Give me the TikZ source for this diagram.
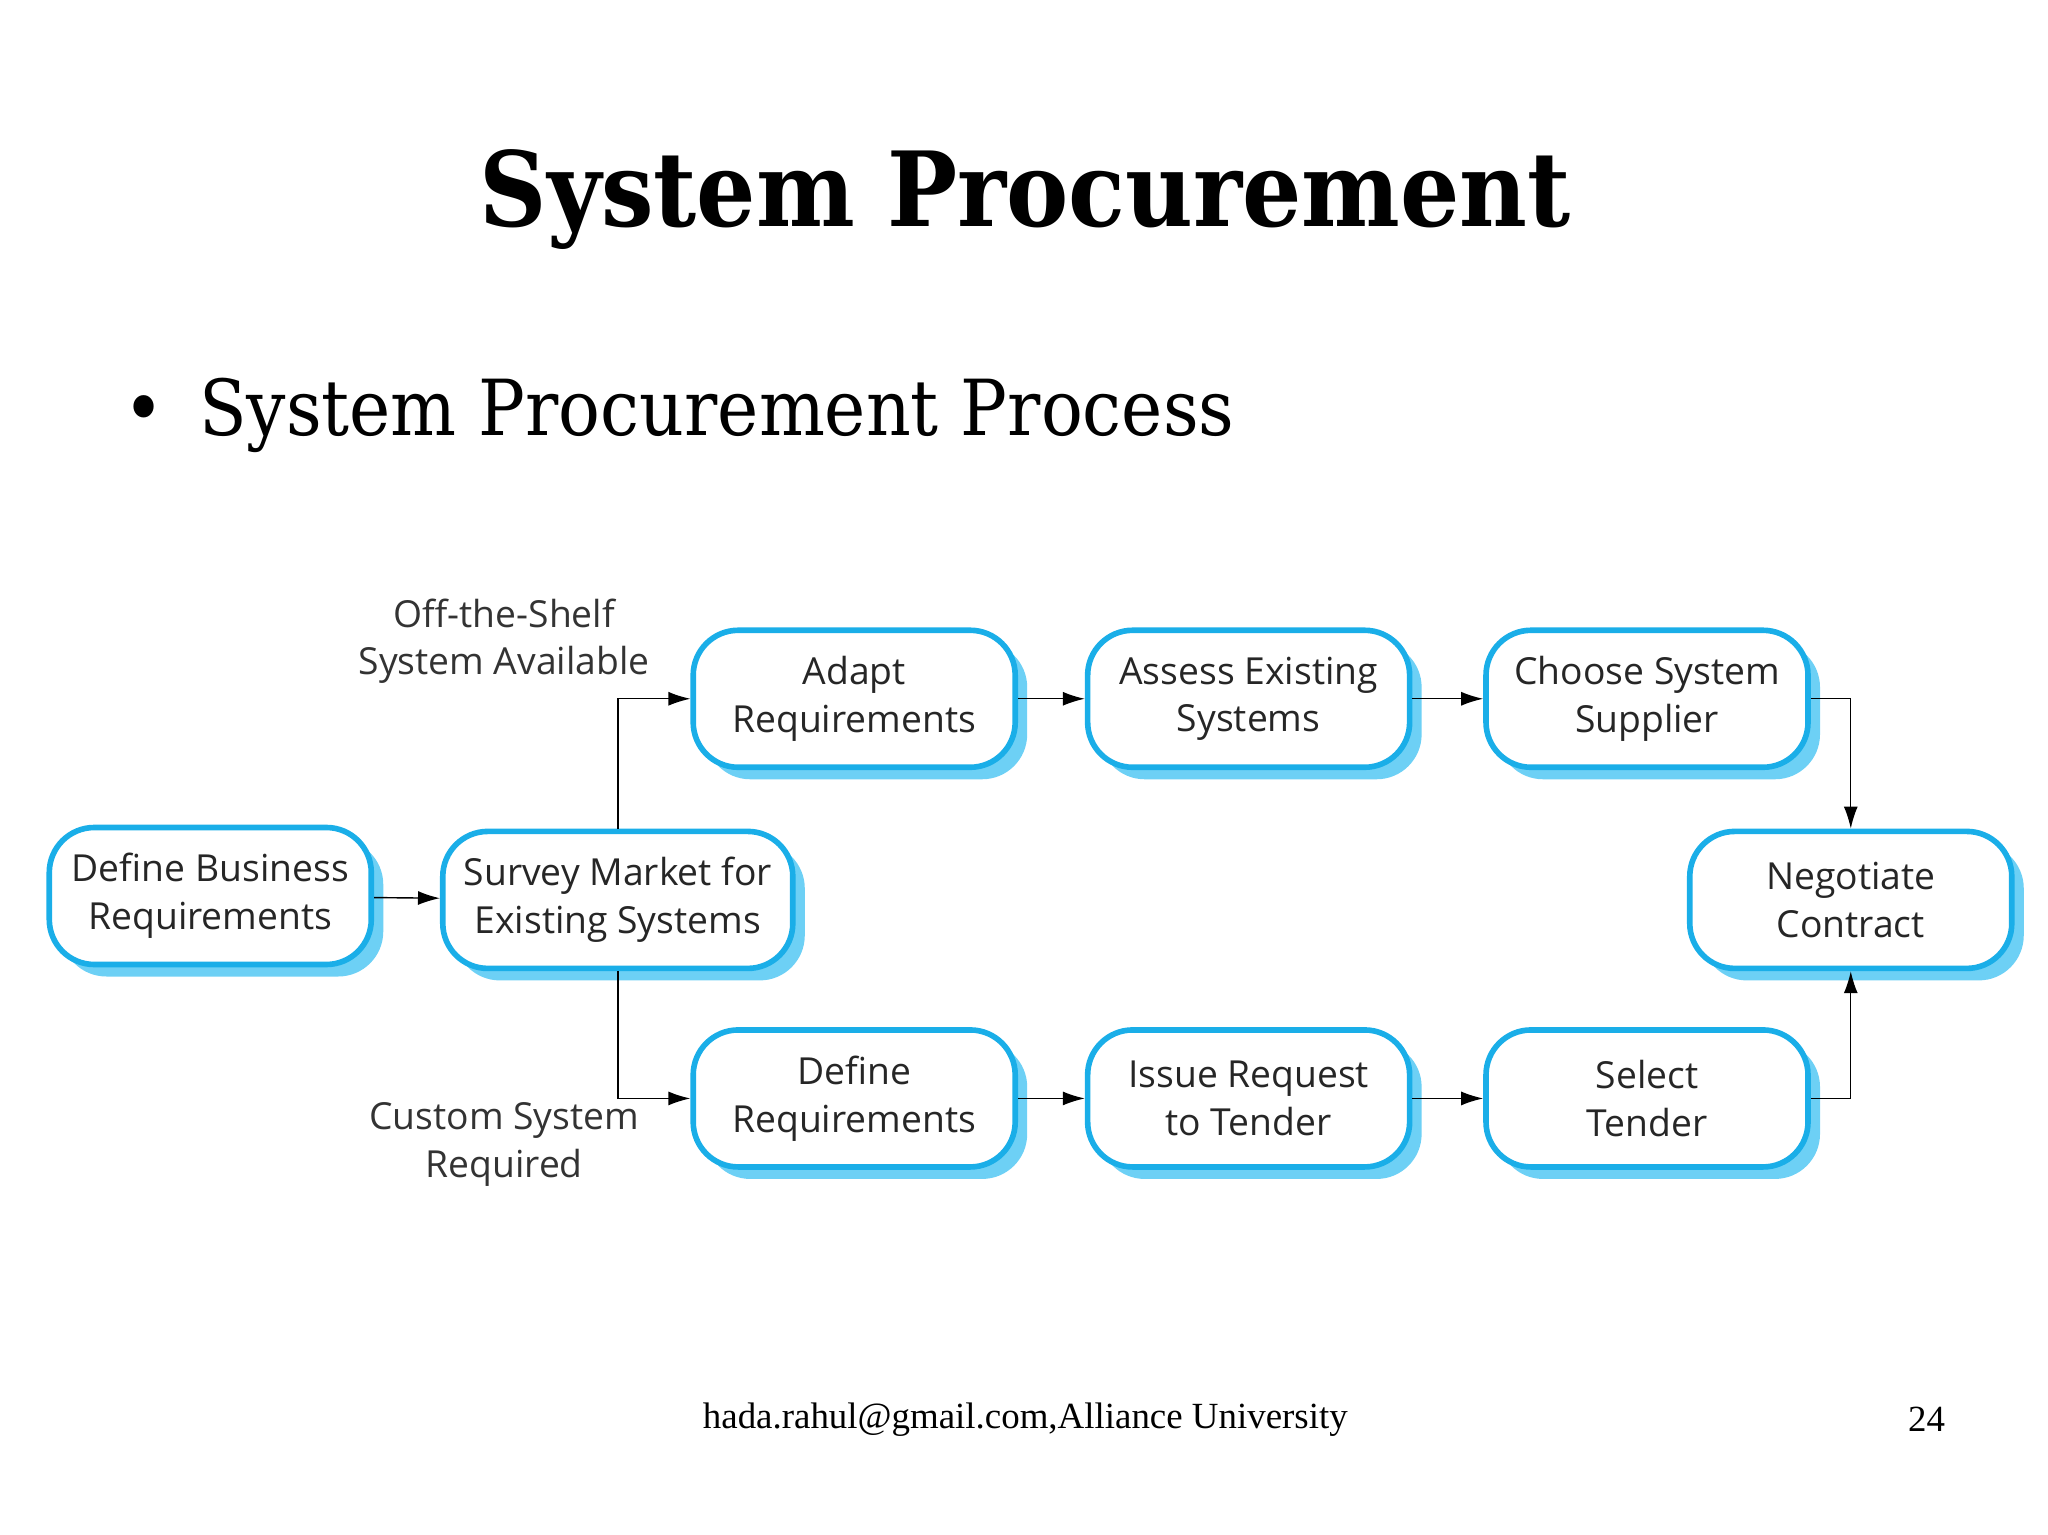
\documentclass[tikz,border=0pt]{standalone}
\usepackage{fontspec}
\setmainfont{DejaVu Serif Condensed}
\newfontfamily\boxfont{Open Sans}
\newfontfamily\footfont{Liberation Serif}
\usetikzlibrary{arrows.meta,shadows}
\definecolor{boxline}{HTML}{1AAEE8}
\definecolor{boxshade}{HTML}{6DD0F5}
\tikzset{
  stage/.style={draw=boxline, line width=1.6pt, fill=white, rounded corners=0.45cm,
    minimum width=3.22cm, minimum height=1.37cm, align=center,
    font=\boxfont\fontsize{10.6}{13.6}\selectfont, text=black!85,
    copy shadow={shadow xshift=0.12cm, shadow yshift=-0.12cm, draw=none, fill=boxshade}},
  lbl/.style={align=center, font=\boxfont\fontsize{10.6}{13.6}\selectfont, text=black!80},
  flow/.style={-{Latex[length=2.2mm,width=1.4mm]}, thin}
}
\begin{document}
\begin{tikzpicture}[x=0.01306cm, y=-0.01306cm]
\useasboundingbox (0,0) rectangle (1568,1175);
\node [font=\bfseries\fontsize{29.5}{36}\selectfont] (title) at (785,153) {System Procurement};
\node [anchor=west, font=\fontsize{22}{27}\selectfont] (bullet) at (85,318) {\textbullet\hspace{0.45em}System Procurement Process};

\node [stage] (define) at (161,686) {Define Business\\Requirements};
\node [stage, minimum width=3.5cm] (survey) at (473,689) {Survey Market for\\Existing Systems};
\node [stage] (adapt) at (654,535) {Adapt\\Requirements};
\node [stage] (assess) at (956,535) {Assess Existing\\Systems};
\node [stage] (choose) at (1261,535) {Choose System\\Supplier};
\node [stage] (negotiate) at (1417,689) {Negotiate\\Contract};
\node [stage] (defreq) at (654,841) {Define\\Requirements};
\node [stage] (issue) at (956,841) {Issue Request\\to Tender};
\node [stage] (select) at (1261,841) {Select\\Tender};

\node [lbl] (shelf) at (386,491) {Off-the-Shelf\\System Available};
\node [lbl] (custom) at (386,876) {Custom System\\Required};

\draw [flow] (define) -- (survey);
\draw [flow] (survey.north) |- (adapt.west);
\draw [flow] (survey.south) |- (defreq.west);
\draw [flow] (adapt) -- (assess);
\draw [flow] (assess) -- (choose);
\draw [flow] (defreq) -- (issue);
\draw [flow] (issue) -- (select);
\draw [flow] (choose.east) -| (negotiate.north);
\draw [flow] (select.east) -| (negotiate.south);

\node [font=\footfont\fontsize{10.5}{12}\selectfont] (footer) at (785,1087) {hada.rahul@gmail.com,Alliance University};
\node [font=\footfont\fontsize{10.5}{12}\selectfont] (page) at (1475,1087) {24};
\end{tikzpicture}
\end{document}
